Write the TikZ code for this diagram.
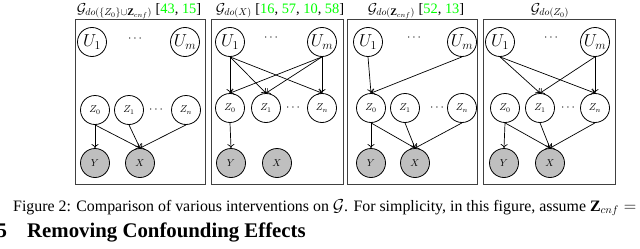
\documentclass[tikz,border=0pt]{standalone}
\usepackage{fontspec}
\setmainfont{Liberation Serif}
\usetikzlibrary{arrows.meta}
\definecolor{citegreen}{rgb}{0,1,0}
\newcommand{\cg}[1]{\textcolor{citegreen}{#1}}
\begin{document}
\begin{tikzpicture}[x=1pt,y=-1pt,
  var/.style={circle,draw,line width=0.8pt,minimum size=29pt,inner sep=0pt},
  uvar/.style={var,font=\fontsize{17}{19}\selectfont},
  zvar/.style={var,font=\fontsize{10}{12}\selectfont},
  obs/.style={zvar,fill=black!25},
  dots/.style={inner sep=0pt,font=\fontsize{12}{14}\selectfont},
  panel/.style={draw=black!75,line width=1pt},
  arr/.style={-{To[length=4pt,width=7pt]},line width=0.7pt},
  title/.style={anchor=base,font=\fontsize{14.4}{17}\selectfont,inner sep=0pt}]
\useasboundingbox (0,0) rectangle (640,249);

% ---------------- panel 1
\draw[panel] (75,19) rectangle (205,184);
\node[title] (t1) at (139,13) {$\mathcal{G}_{do(\{Z_0\}\cup\mathbf{Z}_{cnf})}$ [\cg{43}, \cg{15}]};
\node[uvar] (a-u1) at (92,42) {$U_1$};
\node[uvar] (a-um) at (185,42) {$U_m$};
\node[dots] (a-ud) at (135,39) {$\cdots$};
\node[zvar] (a-z0) at (95,110) {$Z_0$};
\node[zvar] (a-z1) at (129,110) {$Z_1$};
\node[zvar] (a-zn) at (186,110) {$Z_n$};
\node[dots] (a-zd) at (156,110) {$\cdots$};
\node[obs] (a-y) at (95,163) {$Y$};
\node[obs] (a-x) at (140,163) {$X$};
\draw[arr] (a-z0.south) -- (a-y.north);
\draw[arr] (a-z0.south) -- (a-x.north);
\draw[arr] (a-z1.south) -- (a-x.north);
\draw[arr] (a-zn.south) -- (a-x.north);

% ---------------- panel 2
\draw[panel] (211,19) rectangle (343,184);
\node[title] (t2) at (280,13) {$\mathcal{G}_{do(X)}$ [\cg{16}, \cg{57}, \cg{10}, \cg{58}]};
\node[uvar] (b-u1) at (230,42) {$U_1$};
\node[uvar] (b-um) at (322,42) {$U_m$};
\node[dots] (b-ud) at (271,38) {$\cdots$};
\node[zvar] (b-z0) at (230,108) {$Z_0$};
\node[zvar] (b-z1) at (266,108) {$Z_1$};
\node[zvar] (b-zn) at (322,108) {$Z_n$};
\node[dots] (b-zd) at (293,108) {$\cdots$};
\node[obs] (b-y) at (231,163) {$Y$};
\node[obs] (b-x) at (277,163) {$X$};
\draw[arr] (b-u1.south) -- (b-z0.north);
\draw[arr] (b-u1.south) -- (b-z1.north);
\draw[arr] (b-u1.south) -- (b-zn.north);
\draw[arr] (b-um.south) -- (b-z0.north);
\draw[arr] (b-um.south) -- (b-z1.north);
\draw[arr] (b-um.south) -- (b-zn.north);
\draw[arr] (b-z0.south) -- (b-y.north);

% ---------------- panel 3
\draw[panel] (347,19) rectangle (477,184);
\node[title] (t3) at (416,13) {$\mathcal{G}_{do(\mathbf{Z}_{cnf})}$ [\cg{52}, \cg{13}]};
\node[uvar] (c-u1) at (368,42) {$U_1$};
\node[uvar] (c-um) at (462,42) {$U_m$};
\node[dots] (c-ud) at (414,38) {$\cdots$};
\node[zvar] (c-z0) at (371,108) {$Z_0$};
\node[zvar] (c-z1) at (405,108) {$Z_1$};
\node[zvar] (c-zn) at (462,108) {$Z_n$};
\node[dots] (c-zd) at (437,108) {$\cdots$};
\node[obs] (c-y) at (371,163) {$Y$};
\node[obs] (c-x) at (415,163) {$X$};
\draw[arr] (c-u1.south) -- (c-z0.north);
\draw[arr] (c-um.south) -- (c-z0.north);
\draw[arr] (c-z0.south) -- (c-y.north);
\draw[arr] (c-z0.south) -- (c-x.north);
\draw[arr] (c-z1.south) -- (c-x.north);
\draw[arr] (c-zn.south) -- (c-x.north);

% ---------------- panel 4
\draw[panel] (483,19) rectangle (615,184);
\node[title] (t4) at (550,13) {$\mathcal{G}_{do(Z_0)}$};
\node[uvar] (d-u1) at (500,42) {$U_1$};
\node[uvar] (d-um) at (595,42) {$U_m$};
\node[dots] (d-ud) at (551,38) {$\cdots$};
\node[zvar] (d-z0) at (505,108) {$Z_0$};
\node[zvar] (d-z1) at (540,108) {$Z_1$};
\node[zvar] (d-zn) at (595,108) {$Z_n$};
\node[dots] (d-zd) at (568,108) {$\cdots$};
\node[obs] (d-y) at (504,163) {$Y$};
\node[obs] (d-x) at (550,163) {$X$};
\draw[arr] (d-u1.south) -- (d-z1.north);
\draw[arr] (d-u1.south) -- (d-zn.north);
\draw[arr] (d-um.south) -- (d-z1.north);
\draw[arr] (d-um.south) -- (d-zn.north);
\draw[arr] (d-z0.south) -- (d-y.north);
\draw[arr] (d-z0.south) -- (d-x.north);
\draw[arr] (d-z1.south) -- (d-x.north);
\draw[arr] (d-zn.south) -- (d-x.north);

% ---------------- caption and heading
\node[anchor=base west,inner sep=0pt,font=\fontsize{15.9}{19}\selectfont] (cap) at (13,211)
  {Figure 2: Comparison of various interventions on $\mathcal{G}$. For simplicity, in this figure, assume $\mathbf{Z}_{cnf}=$};
\node[anchor=base west,inner sep=0pt,font=\fontsize{20.8}{24}\selectfont\bfseries] (secnum) at (-3.5,237) {5};
\node[anchor=base west,inner sep=0pt,font=\fontsize{20.8}{24}\selectfont\bfseries] (sec) at (27,237) {Removing Confounding Effects};
\end{tikzpicture}
\end{document}
